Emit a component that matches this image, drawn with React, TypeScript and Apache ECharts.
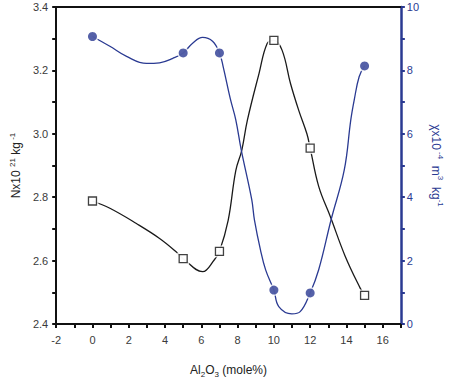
import React, { useEffect, useRef } from "react";
import * as echarts from "echarts";

// Measured points
const xPoints = [0, 5, 7, 10, 12, 15];
const nValues = [2.788, 2.606, 2.629, 3.295, 2.955, 2.49];
const chiValues = [9.07, 8.55, 8.55, 1.07, 0.98, 8.14];

// Smooth fitted curves: [x, y]
const nCurve: number[][] = [
  [0, 2.788], [0.96, 2.765], [2.42, 2.717], [3.7, 2.67], [4.61, 2.628], [5, 2.606],
  [6.07, 2.565], [6.71, 2.602], [7, 2.629], [7.48, 2.727], [7.9, 2.884], [8.23, 2.948],
  [8.54, 3.043], [9.18, 3.19], [9.63, 3.285], [10, 3.295], [10.45, 3.264], [10.92, 3.158],
  [11.37, 3.074], [11.82, 3.0], [12, 2.955], [12.47, 2.834], [13.11, 2.739], [13.93, 2.614],
  [14.75, 2.514], [15, 2.49],
];
const chiCurve: number[][] = [
  [0, 9.07], [0.96, 8.76], [1.88, 8.44], [2.98, 8.22], [3.7, 8.24], [4.43, 8.38], [5, 8.55],
  [5.52, 8.86], [6.07, 9.04], [6.62, 8.92], [7, 8.55], [7.2, 8.13], [7.6, 7.1], [7.9, 6.44],
  [8.2, 5.49], [8.78, 3.92], [8.93, 3.28], [9.26, 2.34], [9.55, 1.7], [10, 1.07], [10.27, 0.55],
  [10.99, 0.32], [11.45, 0.39], [12, 0.98], [12.47, 1.71], [13.15, 3.28], [13.88, 4.86],
  [14.24, 6.44], [14.43, 7.07], [14.7, 7.8], [15, 8.14],
];

const xTickLabels = ["-2", "0", "2", "4", "6", "8", "10", "12", "14", "16"];
const leftTickLabels = ["2.4", "2.6", "2.8", "3.0", "3.2", "3.4"];
const rightTickLabels = ["0", "2", "4", "6", "8", "10"];

const BLUE = "#2a3a92";
const FONT = "Liberation Sans, Arial, sans-serif";

export default function App() {
  const ref = useRef<HTMLDivElement>(null);
  useEffect(() => {
    if (!ref.current) return;
    const chart = echarts.init(ref.current, undefined, { renderer: "svg" });
    const nData = xPoints.map((x, i) => [x, nValues[i]]);
    const chiData = xPoints.map((x, i) => [x, chiValues[i]]);
    chart.setOption({
      animation: false,
      backgroundColor: "#ffffff",
      grid: { left: 56, right: 50, top: 7, bottom: 62, containLabel: false },
      xAxis: [
        {
          type: "value",
          min: -2,
          max: 17,
          interval: 1,
          position: "bottom",
          axisLine: { show: true, onZero: false, lineStyle: { color: "#111", width: 2 } },
          axisTick: { show: true, length: 4, lineStyle: { color: "#111", width: 2 } },
          splitLine: { show: false },
          axisLabel: {
            margin: 10,
            color: "#3a3a3a",
            fontFamily: FONT,
            fontSize: 11,
            formatter: (v: number) => {
              const s = String(Math.round(v));
              return xTickLabels.includes(s) ? s : "";
            },
          },
          name: "{b|Al}{s|2}{b|O}{s|3}{b| (mole%)}",
          nameLocation: "middle",
          nameGap: 38,
          nameTextStyle: {
            rich: {
              b: { fontSize: 12, fontFamily: FONT, color: "#222", lineHeight: 14 },
              s: { fontSize: 8, fontFamily: FONT, color: "#222", padding: [8, 0, 0, 0], verticalAlign: "top" },
            },
          },
        },
        {
          type: "value",
          min: -2,
          max: 17,
          position: "top",
          axisLine: { show: true, onZero: false, lineStyle: { color: "#111", width: 2.2 } },
          axisTick: { show: false },
          axisLabel: { show: false },
          splitLine: { show: false },
        },
      ],
      yAxis: [
        {
          type: "value",
          min: 2.4,
          max: 3.4,
          interval: 0.1,
          position: "left",
          axisLine: { show: true, onZero: false, lineStyle: { color: "#111", width: 2 } },
          axisTick: { show: true, length: 4, lineStyle: { color: "#111", width: 2 } },
          splitLine: { show: false },
          axisLabel: {
            margin: 8,
            color: "#3a3a3a",
            fontFamily: FONT,
            fontSize: 11,
            formatter: (v: number) => {
              const s = v.toFixed(1);
              return leftTickLabels.includes(s) ? s : "";
            },
          },
          name: "{b|Nx10 }{s|21}{b| kg}{s| -1}",
          nameLocation: "middle",
          nameRotate: 90,
          nameGap: 25,
          nameTextStyle: {
            rich: {
              b: { fontSize: 12, fontFamily: FONT, color: "#222", lineHeight: 14 },
              s: { fontSize: 8, fontFamily: FONT, color: "#222", padding: [0, 0, 8, 0], verticalAlign: "bottom" },
            },
          },
        },
        {
          type: "value",
          min: 0,
          max: 10,
          interval: 1,
          position: "right",
          axisLine: { show: true, onZero: false, lineStyle: { color: BLUE, width: 2.5 } },
          axisTick: { show: true, length: 4, lineStyle: { color: BLUE, width: 2 } },
          splitLine: { show: false },
          axisLabel: {
            margin: 6,
            color: BLUE,
            fontFamily: FONT,
            fontSize: 11,
            formatter: (v: number) => {
              const s = String(Math.round(v));
              return rightTickLabels.includes(s) ? s : "";
            },
          },
          name: "{b|χx10}{s| -4}{b|  m}{s|3}{b|  kg}{s|-1}",
          nameLocation: "middle",
          nameRotate: -90,
          nameGap: 27,
          nameTextStyle: {
            rich: {
              b: { fontSize: 12, fontFamily: FONT, color: BLUE, lineHeight: 14 },
              s: { fontSize: 8, fontFamily: FONT, color: BLUE, padding: [0, 0, 8, 0], verticalAlign: "bottom" },
            },
          },
        },
      ],
      series: [
        {
          type: "line",
          name: "N curve",
          xAxisIndex: 0,
          yAxisIndex: 0,
          data: nCurve,
          smooth: 0.4,
          showSymbol: false,
          symbol: "none",
          lineStyle: { color: "#1a1a1a", width: 1.3 },
          z: 1,
        },
        {
          type: "line",
          name: "chi curve",
          xAxisIndex: 0,
          yAxisIndex: 1,
          data: chiCurve,
          smooth: 0.4,
          showSymbol: false,
          symbol: "none",
          lineStyle: { color: BLUE, width: 1.3 },
          z: 1,
        },
        {
          type: "scatter",
          name: "N halo",
          xAxisIndex: 0,
          yAxisIndex: 0,
          data: nData,
          symbol: "rect",
          symbolSize: 12,
          itemStyle: { color: "#ffffff" },
          silent: true,
          z: 2,
        },
        {
          type: "scatter",
          name: "chi halo",
          xAxisIndex: 0,
          yAxisIndex: 1,
          data: chiData,
          symbol: "circle",
          symbolSize: 12,
          itemStyle: { color: "#ffffff" },
          silent: true,
          z: 2,
        },
        {
          type: "scatter",
          name: "N",
          xAxisIndex: 0,
          yAxisIndex: 0,
          data: nData,
          symbol: "rect",
          symbolSize: 8,
          itemStyle: { color: "#ffffff", borderColor: "#111", borderWidth: 1.3 },
          z: 3,
        },
        {
          type: "scatter",
          name: "chi",
          xAxisIndex: 0,
          yAxisIndex: 1,
          data: chiData,
          symbol: "circle",
          symbolSize: 9,
          itemStyle: { color: BLUE },
          z: 3,
        },
      ],
    });
    return () => chart.dispose();
  }, []);
  return <div ref={ref} style={{ width: 452, height: 386, position: "absolute", left: 0, top: 0 }} />;
}
